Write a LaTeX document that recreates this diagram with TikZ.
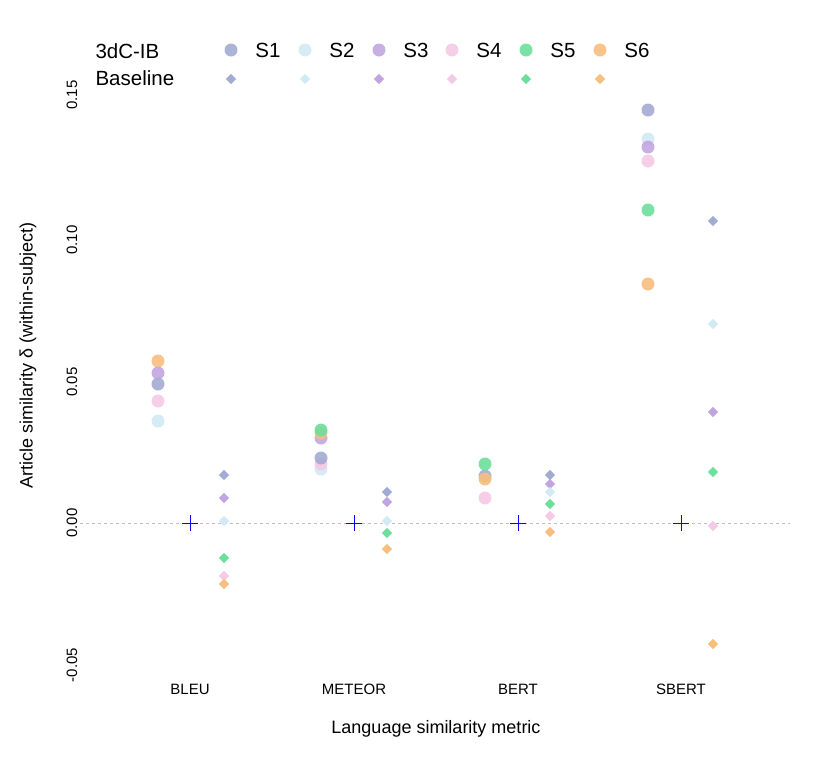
\documentclass[tikz,border=0pt]{standalone}
\usepackage{fontspec}
\setmainfont{Liberation Sans}
\usetikzlibrary{shapes.geometric}
\begin{document}
\begin{tikzpicture}[x=1pt,y=-1pt,
  dot/.style={circle,inner sep=0pt,minimum size=13pt,fill opacity=0.9},
  dia/.style={diamond,inner sep=0pt,minimum size=10.5pt},
  cross/.style={draw=blue,line width=0.9pt},
  tick/.style={font=\fontsize{15}{17}\selectfont},
  lab/.style={font=\fontsize{18}{21}\selectfont},
  leg/.style={font=\fontsize{20.5}{24}\selectfont}]
\useasboundingbox (0,0) rectangle (831,761);
\definecolor{cA}{HTML}{A3ABD3}\definecolor{cB}{HTML}{D2EAF3}
\definecolor{cC}{HTML}{C1A5E0}\definecolor{cD}{HTML}{F6C9E6}
\definecolor{cE}{HTML}{6DDF9C}\definecolor{cF}{HTML}{F7BE7E}
\draw[dashed,gray!50] (80,523) -- (790,523);
% 3dC-IB
\foreach \x/\y/\c in {158/361/cF,158/373/cC,158/384/cA,158/401/cD,158/421/cB,
  321/469/cB,321/464/cD,321/458/cA,321/438/cC,321/433/cF,321/430/cE,
  485/498/cD,485/476/cA,485/479/cF,485/464/cE,
  648/110/cA,648/139/cB,648/147/cC,648/161/cD,648/210/cE,648/284/cF}
  \node[dot,fill=\c] at (\x,\y) {};
% Baseline
\foreach \x/\y/\c in {224/475/cA,224/498/cC,224/521/cB,224/558/cE,224/576/cD,224/584/cF,
  387/492/cA,387/502/cC,387/521/cB,387/533/cE,387/549/cF,
  550/475/cA,550/484/cC,550/492/cB,550/504/cE,550/516/cD,550/532/cF,
  713/221/cA,713/324/cB,713/412/cC,713/472/cE,713/526/cD,713/644/cF}
  \node[dia,fill=\c] at (\x,\y) {};
\draw[cross] (182,523) -- (198,523) (190,515) -- (190,531);
\draw[cross] (346,523) -- (362,523) (354,515) -- (354,531);
\draw[cross] (510,523) -- (526,523) (518,515) -- (518,531);
\draw[cross] (673,523) -- (689,523) (681,515) -- (681,531);
% axes labels
\foreach \v/\y in {0.15/95,0.10/240,0.05/382,0.00/523,-0.05/665}
  \node[tick,rotate=90] at (72,\y) {\v};
\foreach \n/\x in {BLEU/190,METEOR/354,BERT/518,SBERT/681}
  \node[tick] (x\n) at (\x,689) {\n};
\node[lab] (xt) at (436,729) {Language similarity metric};
\node[lab,rotate=90] (yt) at (28,355) {Article similarity δ (within-subject)};
% legend
\node[leg,anchor=west] (l1) at (92,51) {3dC-IB};
\node[leg,anchor=west] (l2) at (92,78) {Baseline};
\foreach \i/\x/\c in {1/231/cA,2/305/cB,3/379/cC,4/452/cD,5/526/cE,6/600/cF}{
  \node[dot,fill=\c] at (\x,50) {};
  \node[dia,fill=\c] at (\x,79) {};
  \node[leg] at (\x+37,50) {S\i};}
\end{tikzpicture}
\end{document}
